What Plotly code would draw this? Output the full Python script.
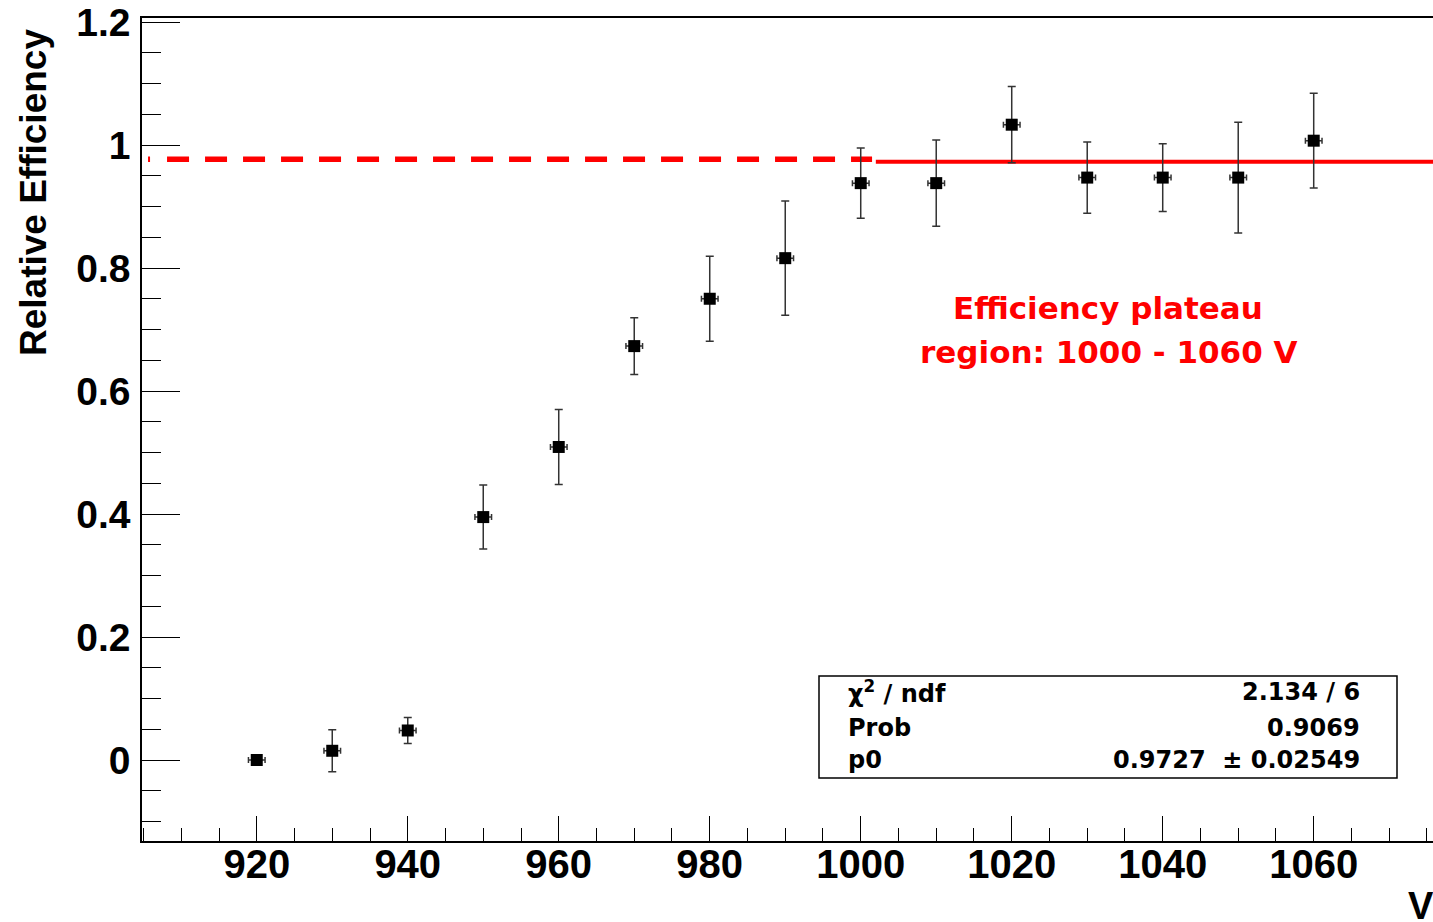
import plotly.graph_objects as go

# ---- data ----
voltage = [920, 930, 940, 950, 960, 970, 980, 990, 1000, 1010, 1020, 1030, 1040, 1050, 1060]
efficiency = [0.000, 0.015, 0.048, 0.395, 0.509, 0.673, 0.750, 0.816, 0.938, 0.938, 1.033, 0.947, 0.947, 0.947, 1.007]
eff_err = [0.000, 0.034, 0.021, 0.052, 0.061, 0.046, 0.069, 0.093, 0.057, 0.070, 0.062, 0.058, 0.055, 0.090, 0.077]
volt_err = [1.1] * len(voltage)

fit_p0 = 0.9727
dashed_level = 0.977          # hand-drawn extrapolation sits ~2 px higher
fit_dashed_x = [905.6, 1001.5]
fit_solid_x = [1002.0, 1076.0]

stats_labels = ["χ<sup>2</sup> / ndf", "Prob", "p0"]
stats_values = ["2.134 / 6", "0.9069", "0.9727  ± 0.02549"]

x_range = [904.8, 1075.8]
y_range = [-0.1317, 1.2065]

FONT = "Liberation Sans, Arial, Helvetica, sans-serif"
WIDE = "DejaVu Sans, Liberation Sans, Arial, sans-serif"

fig = go.Figure()

# fit line (dashed extrapolation + solid plateau)
dash_pattern = "2px,17px," + ",".join(["22px,16px"] * 24)
fig.add_trace(go.Scatter(
    x=fit_dashed_x, y=[dashed_level, dashed_level], mode="lines",
    line=dict(color="#ff0000", width=5.5, dash=dash_pattern),
    hoverinfo="skip", showlegend=False))
fig.add_trace(go.Scatter(
    x=fit_solid_x, y=[fit_p0, fit_p0], mode="lines",
    line=dict(color="#ff0000", width=4),
    hoverinfo="skip", showlegend=False))

# data points
fig.add_trace(go.Scatter(
    x=voltage, y=efficiency, mode="markers",
    marker=dict(symbol="square", size=12, color="black"),
    error_y=dict(type="data", array=eff_err, visible=True, color="#333333", thickness=1.5, width=4),
    error_x=dict(type="data", array=volt_err, visible=True, color="#333333", thickness=1.5, width=3),
    showlegend=False))

# plot area in pixels: x 142..1433, y 18..841
PX0, PX1, PY0, PY1 = 142, 1433, 18, 841
def px(x):
    return (x - PX0) / (PX1 - PX0)
def py(y):
    return (PY1 - y) / (PY1 - PY0)

# statistics box
fig.add_shape(type="rect", xref="paper", yref="paper",
              x0=px(819), x1=px(1397), y0=py(778), y1=py(676),
              line=dict(color="black", width=1.5), fillcolor="white", layer="above")

row_y = [692, 728, 760]
for lab, val, ry in zip(stats_labels, stats_values, row_y):
    fig.add_annotation(xref="paper", yref="paper", x=px(846), y=py(ry),
                       xanchor="left", yanchor="middle", text=lab, showarrow=False,
                       font=dict(family=WIDE, size=24, color="black", weight="bold"))
    fig.add_annotation(xref="paper", yref="paper", x=px(1362), y=py(ry),
                       xanchor="right", yanchor="middle", text=val, showarrow=False,
                       font=dict(family=WIDE, size=24, color="black", weight="bold"))

# red plateau note
note_lines = ["Efficiency plateau", "region: 1000 - 1060 V"]
for line, ly in zip(note_lines, [308, 352]):
    fig.add_annotation(xref="paper", yref="paper", x=px(1108), y=py(ly),
                       xanchor="center", yanchor="middle", text=line, showarrow=False,
                       font=dict(family=WIDE, size=31, color="#ff0000", weight="bold"))

# axis titles (ROOT style placement)
fig.add_annotation(xref="paper", yref="paper", x=px(33), y=py(193), textangle=-90,
                   xanchor="center", yanchor="middle", text="Relative Efficiency", showarrow=False,
                   font=dict(family=FONT, size=37, color="black", weight="bold"))
fig.add_annotation(xref="paper", yref="paper", x=px(1421), y=py(906),
                   xanchor="center", yanchor="middle", text="V", showarrow=False,
                   font=dict(family=FONT, size=38, color="black", weight="bold"))

fig.update_xaxes(
    range=x_range, showline=True, linecolor="black", linewidth=1.5, mirror=True,
    ticks="inside", tickcolor="black", ticklen=25, tickwidth=1.3,
    tick0=920, dtick=20, showgrid=False, zeroline=False,
    tickfont=dict(family=FONT, size=40, color="black", weight="bold"),
    ticklabelstandoff=-13,
    minor=dict(ticks="inside", ticklen=13, tickcolor="black", tickwidth=1.3, dtick=5, tick0=920, showgrid=False),
)
fig.update_yaxes(
    range=y_range, showline=True, linecolor="black", linewidth=1.5, mirror=False,
    ticks="inside", tickcolor="black", ticklen=38, tickwidth=1.3,
    showgrid=False, zeroline=False,
    tickvals=[0, 0.2, 0.4, 0.6, 0.8, 1.0, 1.2],
    ticktext=["0", "0.2", "0.4", "0.6", "0.8", "1", "1.2"],
    tickfont=dict(family=FONT, size=39, color="black", weight="bold"),
    ticklabelstandoff=2,
    minor=dict(ticks="inside", ticklen=19, tickcolor="black", tickwidth=1.3, dtick=0.05, tick0=0, showgrid=False),
)

fig.update_layout(
    width=1433, height=922,
    margin=dict(l=PX0, r=1433 - PX1, t=PY0, b=922 - PY1, pad=0),
    plot_bgcolor="white", paper_bgcolor="white",
    showlegend=False,
)

fig.write_html("out.html", config={"displayModeBar": False},
               post_script="document.body.style.margin='0';")
